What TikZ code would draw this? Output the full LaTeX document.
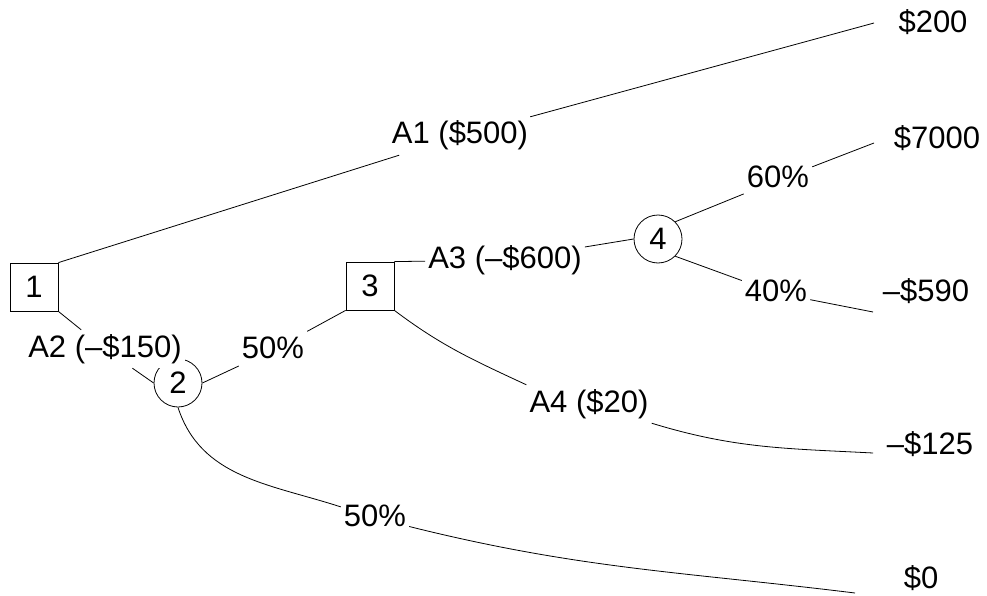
\documentclass[tikz,border=0pt]{standalone}
\usepackage{fontspec}
\setmainfont{Liberation Sans}
\begin{document}
\begin{tikzpicture}[x=1pt,y=1pt,
  every node/.style={font=\fontsize{31}{36}\selectfont},
  decision/.style={draw,rectangle,minimum size=48pt,inner sep=0pt,line width=0.8pt},
  chance/.style={draw,circle,minimum size=48pt,inner sep=0pt,line width=0.8pt},
  lbl/.style={fill=white,inner xsep=3pt,inner ysep=4pt,text height=23pt,text depth=7pt},
  val/.style={inner xsep=3pt,inner ysep=4pt,text height=23pt,text depth=7pt},
  edge/.style={line width=0.8pt}]
\path[use as bounding box] (0,0) rectangle (987,-596);
% decision and chance nodes
\node[decision] (b1) at (34,-287) {1};
\node[decision] (b3) at (370,-286) {3};
\node[chance] (c2) at (178,-383) {2};
\node[chance] (c4) at (658,-239) {4};
% branch labels
\node[lbl] (a1) at (460,-136) {A1 (\$500)};
\node[lbl] (a2) at (105,-349) {A2 (–\$150)};
\node[lbl] (p50a) at (273,-350) {50\%};
\node[lbl] (a3) at (505,-260) {A3 (–\$600)};
\node[lbl] (p60) at (778,-180) {60\%};
\node[lbl] (p40) at (776,-293) {40\%};
\node[lbl] (a4) at (589,-404) {A4 (\$20)};
\node[lbl] (p50b) at (375,-518) {50\%};
% terminal values
\node[val] (v200) at (933,-25) {\$200};
\node[val] (v7000) at (937,-141) {\$7000};
\node[val] (v590) at (926,-293) {–\$590};
\node[val] (v125) at (930,-446) {–\$125};
\node[val] (v0) at (921,-580) {\$0};
% terminal line ends
\coordinate (t200) at (874,-23);
\coordinate (t7000) at (874,-143);
\coordinate (t590) at (873,-312);
\coordinate (t125) at (873,-453);
\coordinate (t0) at (855,-593);
% connectors
\draw[edge] (b1.north east) -- (a1);
\draw[edge] (a1) -- (t200);
\draw[edge] (b1.south east) -- (a2);
\draw[edge] (a2) -- (c2.west);
\draw[edge] (c2.east) -- (p50a);
\draw[edge] (p50a) -- (b3.south west);
\draw[edge] (b3.north east) -- (a3);
\draw[edge] (a3) -- (c4.west);
\draw[edge] (c4.north east) -- (p60);
\draw[edge] (p60) -- (t7000);
\draw[edge] (c4.south east) -- (p40);
\draw[edge] (p40) -- (t590);
\draw[edge] (b3.south east) to[out=-37,in=155] (a4.north west);
\draw[edge] (a4.south east) to[out=-17,in=177] (t125);
\draw[edge] (c2.south) to[out=-72,in=162] (p50b);
\draw[edge] (p50b) to[out=-14,in=173] (t0);
\end{tikzpicture}
\end{document}
